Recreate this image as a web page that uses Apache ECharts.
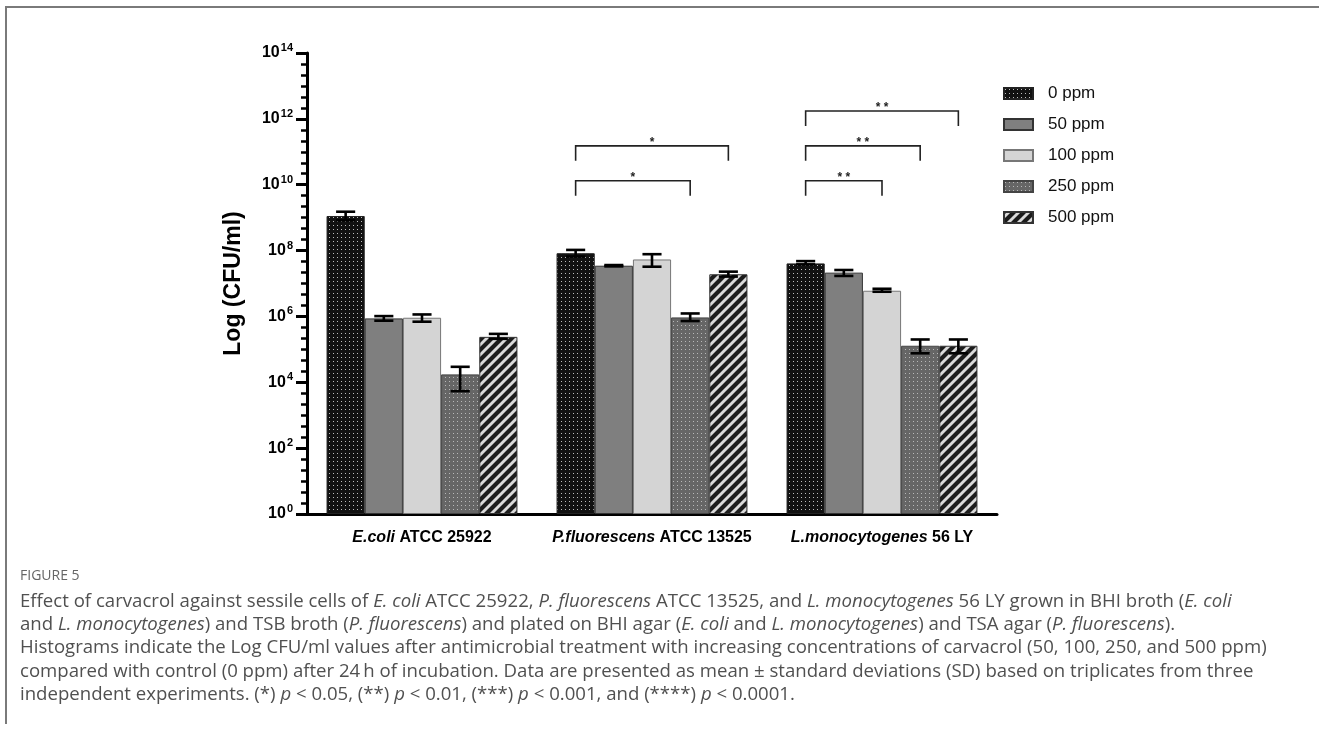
<!DOCTYPE html>
<html><head><meta charset="utf-8">
<script src="https://cdn.jsdelivr.net/npm/echarts@6/dist/echarts.min.js"></script>
<style>html,body{margin:0;padding:0;background:#fff}#c{width:1319px;height:730px}</style>
</head><body><div id="c"></div>
<script>
// ---------- DATA ----------
const catItalic = ['E.coli', 'P.fluorescens', 'L.monocytogenes'];
const catRoman  = [' ATCC 25922', ' ATCC 13525', ' 56 LY'];
const categories = catItalic.map((s, i) => s + catRoman[i]);
const seriesNames = ['0 ppm', '50 ppm', '100 ppm', '250 ppm', '500 ppm'];
// mean log10(CFU/ml), one value per strain
const ppm0   = [9.05, 7.92, 7.61];
const ppm50  = [5.94, 7.54, 7.33];
const ppm100 = [5.96, 7.73, 6.78];
const ppm250 = [4.24, 5.97, 5.11];
const ppm500 = [5.38, 7.28, 5.11];
// error bars [low, high] in log10 units
const err0   = [[8.92, 9.18], [7.82, 8.02], [7.58, 7.68]];
const err50  = [[5.87, 6.01], [7.52, 7.56], [7.23, 7.41]];
const err100 = [[5.84, 6.06], [7.51, 7.89], [6.75, 6.84]];
const err250 = [[3.73, 4.47], [5.86, 6.09], [4.88, 5.30]];
const err500 = [[5.32, 5.47], [7.21, 7.36], [4.88, 5.30]];
// y ticks (exponents)
const yTicks = [0, 2, 4, 6, 8, 10, 12, 14];
// significance brackets: strain index, from bar, to bar, level (log10), label
const brCat   = [1, 1, 2, 2, 2];
const brFrom  = [0, 0, 0, 0, 0];
const brTo    = [3, 4, 2, 3, 4];
const brLevel = [10.12, 11.18, 10.12, 11.18, 12.24];
const brLabel = ['*', '*', '* *', '* *', '* *'];
// caption
const captionTitle = 'FIGURE 5';
const captionLines = [
  'Effect of carvacrol against sessile cells of _E. coli_ ATCC 25922, _P. fluorescens_ ATCC 13525, and _L. monocytogenes_ 56 LY grown in BHI broth (_E. coli_',
  'and _L. monocytogenes_) and TSB broth (_P. fluorescens_) and plated on BHI agar (_E. coli_ and _L. monocytogenes_) and TSA agar (_P. fluorescens_).',
  'Histograms indicate the Log CFU/ml values after antimicrobial treatment with increasing concentrations of carvacrol (50, 100, 250, and 500 ppm)',
  'compared with control (0 ppm) after 24\u2009h of incubation. Data are presented as mean \u00b1 standard deviations (SD) based on triplicates from three',
  'independent experiments. (*) _p_ < 0.05, (**) _p_ < 0.01, (***) _p_ < 0.001, and (****) _p_ < 0.0001.'
];

// ---------- STYLE ----------
const FONT = '"Liberation Sans", Arial, sans-serif';
const CAPFONT = '"Open Sans", "Noto Sans", sans-serif';
const CAT_GAP = 0.17;

function tile(size, draw) {
  const c = document.createElement('canvas');
  c.width = c.height = size;
  draw(c.getContext('2d'), size);
  return c;
}
const dotsDark = tile(4, (x, s) => { x.fillStyle = '#111'; x.fillRect(0, 0, s, s); x.fillStyle = '#bdbdbd'; x.fillRect(1, 1, 1, 1); });
const dotsGray = tile(4, (x, s) => { x.fillStyle = '#666'; x.fillRect(0, 0, s, s); x.fillStyle = '#b8b8b8'; x.fillRect(1, 1, 1, 1); });
const stripes = tile(10, (x, s) => {
  x.fillStyle = '#dadada'; x.fillRect(0, 0, s, s);
  x.strokeStyle = '#1c1c1c'; x.lineWidth = 4.2;
  x.beginPath();
  x.moveTo(-2, s + 2); x.lineTo(s + 2, -2);
  x.moveTo(-s / 2 - 2, s / 2 + 2); x.lineTo(s / 2 + 2, -s / 2 - 2);
  x.moveTo(s / 2 - 2, s * 1.5 + 2); x.lineTo(s * 1.5 + 2, s / 2 - 2);
  x.stroke();
});
const fills = [
  { image: dotsDark, repeat: 'repeat' },
  '#7f7f7f',
  '#d4d4d4',
  { image: dotsGray, repeat: 'repeat' },
  { image: stripes, repeat: 'repeat' }
];
const borders = ['#222', '#333', '#777', '#444', '#333'];
const values = [ppm0, ppm50, ppm100, ppm250, ppm500];
const errs = [err0, err50, err100, err250, err500];

function barGeom(api, cat, idx) {
  const band = api.size([1, 0])[0];
  const bw = band * (1 - CAT_GAP) / seriesNames.length;
  const cx = api.coord([cat, 0])[0];
  return { x: cx + (idx - (seriesNames.length - 1) / 2) * bw, bw: bw };
}

const barSeries = seriesNames.map((n, i) => ({
  name: n, type: 'bar', data: values[i],
  barGap: '0%', barCategoryGap: (CAT_GAP * 100) + '%',
  itemStyle: { color: fills[i], borderColor: borders[i], borderWidth: 1 },
  emphasis: { disabled: true }, z: 2
}));

const errData = [];
errs.forEach((e, si) => e.forEach((lh, ci) => errData.push([ci, si, lh[0], lh[1]])));
const errSeries = {
  type: 'custom', data: errData, z: 5, silent: true,
  encode: { x: 0, y: [2, 3] },
  renderItem: function (params, api) {
    const g = barGeom(api, api.value(0), api.value(1));
    const y1 = api.coord([api.value(0), api.value(2)])[1];
    const y2 = api.coord([api.value(0), api.value(3)])[1];
    const cap = g.bw * 0.5;
    const st = { stroke: '#000', lineWidth: 2.6 };
    return { type: 'group', children: [
      { type: 'line', shape: { x1: g.x, y1: y1, x2: g.x, y2: y2 }, style: st },
      { type: 'line', shape: { x1: g.x - cap / 2, y1: y1, x2: g.x + cap / 2, y2: y1 }, style: st },
      { type: 'line', shape: { x1: g.x - cap / 2, y1: y2, x2: g.x + cap / 2, y2: y2 }, style: st }
    ] };
  }
};

const brData = brCat.map((c, i) => [c, brFrom[i], brTo[i], brLevel[i], i]);
const brSeries = {
  type: 'custom', data: brData, z: 5, silent: true,
  encode: { x: 0, y: 3 },
  renderItem: function (params, api) {
    const c = api.value(0);
    const a = barGeom(api, c, api.value(1));
    const b = barGeom(api, c, api.value(2));
    const y = api.coord([c, api.value(3)])[1];
    const leg = 15;
    return { type: 'group', children: [
      { type: 'polyline', shape: { points: [[a.x, y + leg], [a.x, y], [b.x, y], [b.x, y + leg]] },
        style: { stroke: '#222', lineWidth: 1.6, fill: null } },
      { type: 'text', x: (a.x + b.x) / 2, y: y + 3,
        style: { text: brLabel[api.value(4)], fill: '#222', font: 'bold 12px ' + FONT, align: 'center', verticalAlign: 'bottom' } }
    ] };
  }
};

function toRich(line) {
  return line.split('_').map((s, i) => s ? ('{' + (i % 2 ? 'i' : 'n') + '|' + s + '}') : '').join('');
}
const CAPSIZE = 18.6;
const capRich = {
  n: { fontFamily: CAPFONT, fontSize: CAPSIZE, fill: '#505050', color: '#505050' },
  i: { fontFamily: CAPFONT, fontSize: CAPSIZE, fontStyle: 'italic', fill: '#505050', color: '#505050' }
};
const graphics = [
  { type: 'polyline', shape: { points: [[6, 724], [6, 7], [1319, 7]] }, style: { stroke: '#7a7a7a', lineWidth: 2, fill: null } },
  { type: 'text', left: 20, top: 569, style: { text: captionTitle, font: '14px ' + CAPFONT, fill: '#666' } }
];
captionLines.forEach((l, i) => graphics.push({
  type: 'text', left: 20, top: 592 + i * 23.3,
  style: { text: toRich(l), rich: capRich }
}));

const chart = echarts.init(document.getElementById('c'), null, { renderer: 'canvas' });
chart.setOption({
  animation: false,
  backgroundColor: '#fff',
  grid: { left: 307, top: 53, width: 690, height: 461, containLabel: false },
  legend: {
    data: seriesNames, orient: 'vertical', left: 998, top: 80,
    itemWidth: 29, itemHeight: 11, itemGap: 14, icon: 'rect',
    textStyle: { fontFamily: FONT, fontSize: 17, color: '#111', padding: [0, 0, 0, 10] },
    selectedMode: false
  },
  xAxis: {
    type: 'category', data: categories,
    axisLine: { lineStyle: { color: '#000', width: 3 } },
    axisTick: { alignWithLabel: true, length: 9, lineStyle: { width: 3, color: '#000' } },
    axisLabel: {
      margin: 16, interval: 0,
      formatter: function (v, i) { return '{i|' + catItalic[i] + '}{r|' + catRoman[i] + '}'; },
      rich: {
        i: { fontFamily: FONT, fontSize: 16, fontWeight: 'bold', fontStyle: 'italic', color: '#000' },
        r: { fontFamily: FONT, fontSize: 16, fontWeight: 'bold', color: '#000' }
      }
    }
  },
  yAxis: {
    type: 'value', min: yTicks[0], max: yTicks[yTicks.length - 1], interval: yTicks[1] - yTicks[0],
    name: 'Log (CFU/ml)', nameLocation: 'middle', nameGap: 62,
    nameTextStyle: { fontFamily: FONT, fontSize: 23, fontWeight: 'bold', color: '#000' },
    axisLine: { show: true, lineStyle: { color: '#000', width: 3 } },
    axisTick: { show: true, length: 11, lineStyle: { width: 3, color: '#000' } },
    minorTick: { show: true, splitNumber: 6, length: 6, lineStyle: { width: 2.5, color: '#000' } },
    splitLine: { show: false },
    axisLabel: {
      margin: 14,
      formatter: function (v) { return '{b|10}{s|' + v + '}'; },
      rich: {
        b: { fontFamily: FONT, fontSize: 16, fontWeight: 'bold', color: '#000' },
        s: { fontFamily: FONT, fontSize: 11, fontWeight: 'bold', color: '#000', padding: [0, 0, 10, 1] }
      }
    }
  },
  series: barSeries.concat([errSeries, brSeries]),
  graphic: graphics
});
</script></body></html>
